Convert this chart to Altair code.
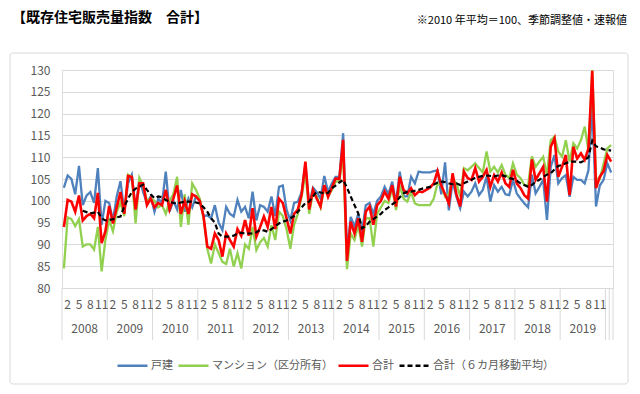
import altair as alt
import pandas as pd

FONT = "Noto Sans CJK JP"

title_text = "【既存住宅販売量指数　合計】"
note_text = "※2010 年平均＝100、季節調整値・速報値"

series_names = ["戸建", "マンション（区分所有）", "合計", "合計（６カ月移動平均）"]
series_colors = ["#4F81BD", "#92D050", "#FF0000", "#000000"]
series_dashes = [[1, 0], [1, 0], [1, 0], [5, 3]]
series_widths = [2.3, 2.3, 2.6, 2.2]

years = list(range(2008, 2020))
month_ticks = [2, 5, 8, 11]
y_ticks = [80, 85, 90, 95, 100, 105, 110, 115, 120, 125, 130]

# monthly values, Jan 2008 - Feb 2020
blue = [
    103, 105.8, 105, 101.5, 108, 99, 101.2, 102, 99.5, 107.5, 94.5, 100,
    99.5, 95.5, 101, 104.5, 97.5, 104, 106, 98, 105, 102, 99.5, 101,
    97.5, 100.5, 99.5, 106.7, 97.5, 100, 98, 102.5, 97.5, 100.5, 98.5, 101,
    100, 96.5, 96.7, 96, 99, 95, 93.3, 98.6, 97, 96.4, 100.2, 97.5,
    98.6, 96, 102.1, 95.5, 99, 98.6, 97.5, 101, 96.5, 103.2, 103.5, 98,
    95.5, 99.5, 99.8, 102, 108.5, 99, 103, 102, 100.5, 105.7, 102, 104,
    105.5, 105.5, 115.5, 88, 96.3, 94.1, 97, 93, 99, 99.5, 97, 100,
    101, 103.2, 101.5, 104.4, 99.5, 106.7, 101, 101, 105.5, 104, 106.7, 106.5,
    106.5, 106.5, 106.8, 107, 101.5, 108.8, 97.8, 104.4, 101, 98.3, 102.1, 101,
    102.1, 104, 101.3, 102.5, 105.5, 99.8, 103.6, 102.1, 103.2, 101.5, 101.3, 104.8,
    101.7, 100.5, 99.4, 98.5, 106, 101.7, 103.2, 104.8, 95.6, 107.8, 110.5, 104,
    105.2, 105.9, 100.9, 105.5, 104.8, 104.8, 104, 107, 122, 98.7, 103.5, 104.8,
    108.6, 106.5,
]
green = [
    84.5, 96.2, 95.8, 94.2, 95.8, 89.5, 90, 90, 88.8, 94, 83.8, 91,
    95.6, 93, 97.5, 99.5, 96.5, 106, 105.5, 94.8, 105.3, 103.5, 100, 100.5,
    100, 98.5, 99, 97, 100, 101.5, 105.5, 94, 101.5, 94.5, 104, 102.5,
    100.5, 96, 89, 85.6, 90, 88, 86, 85.5, 89, 84.9, 88, 84.5,
    90, 89, 94, 88.7, 90.5, 91.5, 89.5, 94.4, 91, 97.5, 96.5, 93.5,
    89, 94.5, 97, 101, 106.5, 97, 102, 101, 98.5, 103, 101, 102.5,
    104.4, 104.5, 110.9, 84.3, 92.5, 91, 94.5, 89.5, 96, 96, 89.5, 97,
    98.5, 100, 99.5, 103, 97.9, 103.5, 100.5, 99.8, 102, 99.4, 99, 99,
    99, 99, 100.5, 104, 103.5, 101, 101.5, 105, 104, 101, 107.5, 107,
    107.8, 108.6, 107.5, 106.5, 111.3, 106.7, 107.8, 106.5, 108.2, 106, 105.2, 108.6,
    106, 105.2, 103.6, 103.5, 110.2, 107.8, 109, 110.1, 105.9, 113.9, 114.7, 111.3,
    110.1, 113.9, 109, 113.2, 112, 113.9, 117, 111.5, 130, 105.2, 105, 108.5,
    112, 112.8,
]
red = [
    94, 100.2, 99.8, 97.5, 101.2, 95.5, 96.5, 97, 96, 101.8, 90.3, 93,
    98.8, 94.8, 98.5, 102, 97, 105.7, 105.5, 98, 104, 104, 99, 100.5,
    98.5, 99.5, 99, 102.5, 98, 100.5, 103.5, 97, 100, 97, 101.5, 101,
    100, 96.5, 89.5, 89, 92.5, 91, 87.2, 92.5, 91, 89.5, 93.5, 92,
    95.6, 92, 98.3, 91.8, 94, 96.4, 94, 98.6, 93.5, 100.5, 99.5, 96,
    92.5, 97, 98, 101.5, 109, 98, 102.5, 100.5, 98.7, 103.6, 100.9, 103,
    105.1, 105, 114, 86.2, 95.2, 92.5, 96, 90.6, 97.5, 98.7, 94.5, 99,
    100, 102.1, 100.5, 103.6, 98.7, 105.5, 102.5, 101.7, 102.9, 101.3, 102.1, 102,
    102.5, 103, 104, 106.8, 103.5, 101.5, 99.4, 106.3, 101.5, 98.7, 106.7, 105.2,
    104.8, 107.5, 104.4, 105.5, 107.1, 103.2, 105.9, 104.4, 106.5, 104, 103.2, 107.1,
    104, 102.9, 101.3, 100.5, 109.5, 104.8, 106.3, 107.8, 99.8, 112.4, 114.3, 105.5,
    107.8, 110.5, 101.3, 112.4, 109.7, 110.9, 109.4, 112, 129.8, 102.9, 105.5, 106.8,
    110.5, 109,
]
moving_avg = [
    None, None, None, None, None, 97.7, 97.4, 97.1, 97.3, 97.5, 96, 95.5,
    95.6, 95.8, 96.2, 96.4, 98.7, 100.5, 102, 102.8, 103.2, 103.7, 102.5, 101.5,
    100.6, 101, 100.8, 100.2, 99.8, 99.5, 99.4, 99.6, 99.8, 99.8, 99.8, 99.6,
    99.4, 98.5, 97.5, 96, 95, 92.5, 91.8, 91.8, 91.8, 92, 92.5, 92.7,
    92.5, 92.5, 92.5, 92.8, 93.3, 93.2, 92.9, 93.5, 94.2, 94.8, 95.2, 95.5,
    96, 96.5, 97.5, 98.5, 99.5, 99.8, 101, 102.1, 101.9, 101.7, 101.8, 102.9,
    103.5, 104.2, 104.8, 103, 101, 99, 97.1, 93.7, 94.2, 95.2, 95.8, 96.4,
    97, 97.9, 98.5, 99.2, 99.8, 100.8, 101.7, 102.1, 102.1, 102.3, 102.5, 102.8,
    103, 103.2, 103.7, 104.2, 104.4, 104.3, 104, 103.8, 104, 103.6, 104, 104.4,
    104.8, 105.3, 105.5, 105.7, 105.8, 105.7, 105.6, 105.8, 105.9, 105.6, 105.2, 105,
    104.6, 104, 103.6, 103.2, 103.6, 104.4, 104.8, 105.5, 106, 106.3, 107.2, 108,
    108.2, 108.6, 109, 109, 109, 108.8, 109.3, 110, 113.8, 112.5, 112.2, 111.8,
    111.7, 111.5,
]

N = len(red)
W, H = 551, 218

rows = []
for name, vals in zip(series_names, [blue, green, red, moving_avg]):
    for i, v in enumerate(vals):
        rows.append({"idx": i, "series": name, "value": v})
df = pd.DataFrame(rows)

month_df = pd.DataFrame(
    [{"pos": (y - years[0]) * 12 + m - 1, "label": str(m)} for y in years for m in month_ticks]
)
year_df = pd.DataFrame(
    [{"pos": (y - years[0]) * 12 + 5.5, "label": str(y)} for y in years]
)
bounds = [(y - years[0]) * 12 - 0.5 for y in years + [years[-1] + 1]] + [N - 1.5, N - 0.5]
bound_df = pd.DataFrame({"pos": bounds})

xscale = alt.Scale(domain=[-0.5, N - 0.5], nice=False, zero=False)
yscale = alt.Scale(domain=[80, 130], nice=False, zero=False)

legend = alt.Legend(
    title=None, orient="none", legendX=54, legendY=279, direction="horizontal",
    symbolType="stroke", symbolSize=900, symbolStrokeWidth=2.5,
    labelFont=FONT, labelFontSize=11, labelColor="#595959",
    columnPadding=0, labelOffset=2,
)
color = alt.Color("series:N", scale=alt.Scale(domain=series_names, range=series_colors), legend=legend)
dash = alt.StrokeDash("series:N", scale=alt.Scale(domain=series_names, range=series_dashes), legend=legend)

yaxis = alt.Axis(
    values=y_ticks, grid=True, gridColor="#D9D9D9", domain=False, ticks=False,
    labelColor="#595959", labelFontSize=12, labelFont=FONT, labelPadding=12, title=None,
)

one = pd.DataFrame({"t": [0]})
frame = alt.Chart(one).mark_rect(fillOpacity=0, stroke="#D9D9D9", strokeWidth=1, cornerRadius=3).encode(
    x=alt.value(-52), x2=alt.value(566), y=alt.value(-17), y2=alt.value(314)
)
title = alt.Chart(pd.DataFrame({"t": [title_text]})).mark_text(
    align="left", baseline="middle", fontSize=14, fontWeight="bold", font=FONT, color="#000000"
).encode(text="t:N", x=alt.value(-50), y=alt.value(-52))
note = alt.Chart(pd.DataFrame({"t": [note_text]})).mark_text(
    align="right", baseline="middle", fontSize=11, font=FONT, color="#000000"
).encode(text="t:N", x=alt.value(565), y=alt.value(-49))

rules = alt.Chart(bound_df).mark_rule(color="#D9D9D9", strokeWidth=1).encode(
    x=alt.X("pos:Q", scale=xscale, axis=None), y=alt.value(H), y2=alt.value(H + 52)
)
months = alt.Chart(month_df).mark_text(fontSize=12, font=FONT, color="#595959", baseline="middle").encode(
    x=alt.X("pos:Q", scale=xscale, axis=None), y=alt.value(H + 17), text="label:N"
)
yrs = alt.Chart(year_df).mark_text(fontSize=12, font=FONT, color="#595959", baseline="middle").encode(
    x=alt.X("pos:Q", scale=xscale, axis=None), y=alt.value(H + 41), text="label:N"
)

lines = []
for name, w in zip(series_names, series_widths):
    base = alt.Chart(df).transform_filter(alt.datum.series == name).mark_line(strokeWidth=w)
    lines.append(base.encode(
        x=alt.X("idx:Q", scale=xscale, axis=None),
        y=alt.Y("value:Q", scale=yscale, axis=yaxis),
        color=color,
        strokeDash=dash,
    ))

chart = alt.layer(frame, title, note, rules, months, yrs, *lines).properties(
    width=W, height=H,
    padding={"left": 54, "top": 62, "right": 17, "bottom": 98},
    autosize=alt.AutoSizeParams(type="none"),
).configure_view(stroke=None).configure(font=FONT, background="#FFFFFF")

chart.save("out.html", embed_options={"renderer": "svg", "actions": False})
